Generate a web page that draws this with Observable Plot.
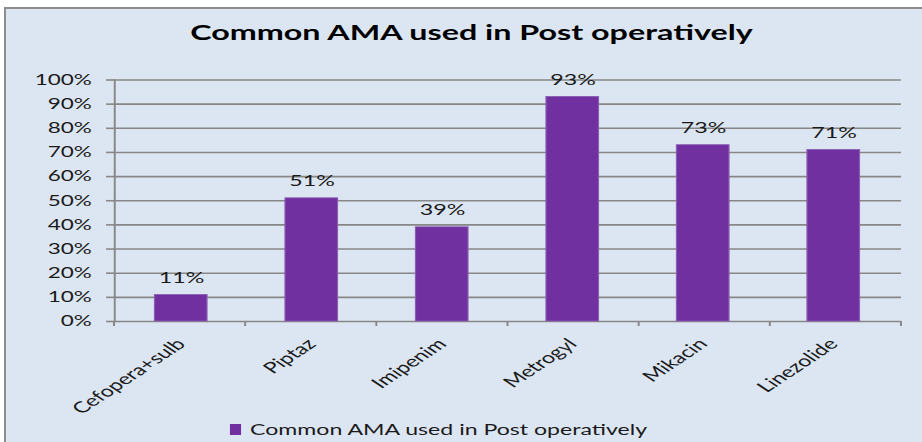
<!DOCTYPE html>
<html>
<head>
<meta charset="utf-8">
<script src="https://cdn.jsdelivr.net/npm/d3@7"></script>
<script src="https://cdn.jsdelivr.net/npm/@observablehq/plot@0.6"></script>
<style>
  html, body { margin: 0; padding: 0; background: #ffffff; }
  body { width: 922px; height: 442px; overflow: hidden; position: relative; }
  #frame { position: absolute; left: 4px; top: 7px; width: 918px; height: 435px;
           background: #dce6f2; border-left: 2px solid #8c8c8c; border-top: 2px solid #8c8c8c; box-sizing: border-box; }
  #stage { position: absolute; left: 0; top: 0; width: 614.67px; height: 442px;
           transform: scaleX(1.5); transform-origin: 0 0; }
  #stage svg { position: absolute; left: 0; top: 0; }
</style>
</head>
<body>
<div id="frame"></div>
<div id="stage"></div>
<script>
// ---- data ----
const chartTitle = "Common AMA used in Post operatively";
const seriesName = "Common AMA used in Post operatively";
const categories = ["Cefopera+sulb", "Piptaz", "Imipenim", "Metrogyl", "Mikacin", "Linezolide"];
const values = [11, 51, 39, 93, 73, 71];
const yTicks = [0, 10, 20, 30, 40, 50, 60, 70, 80, 90, 100];

const data = categories.map((c, i) => ({category: c, value: values[i]}));

const W = 614.67, H = 442;
const purple = "#7030a0";
const grey = "#878787";
const ink = "#1a1a1a";

// boundary tick marks below the category axis
function boundaryTicks(index, scales, vals, dims) {
  const n = categories.length;
  const x0 = dims.marginLeft, x1 = dims.width - dims.marginRight;
  const y0 = dims.height - dims.marginBottom;
  const g = d3.create("svg:g").attr("stroke", grey).attr("stroke-width", 1.3);
  for (let i = 0; i <= n; i++) {
    const x = x0 + (x1 - x0) * i / n;
    g.append("line").attr("x1", x).attr("x2", x).attr("y1", y0).attr("y2", y0 + 5);
  }
  return g.node();
}

const chart = Plot.plot({
  width: W,
  height: H,
  marginLeft: 76,
  marginRight: 14,
  marginTop: 79.5,
  marginBottom: H - 321,
  style: {background: "transparent", fontFamily: "Lato", fontSize: "15px", color: ink, overflow: "visible"},
  x: {domain: categories, paddingInner: 0.6, paddingOuter: 0.3, axis: null},
  y: {domain: [0, 100], axis: null},
  marks: [
    Plot.gridY(yTicks, {stroke: grey, strokeOpacity: 1, strokeWidth: 1.6}),
    Plot.axisY({ticks: yTicks, tickFormat: d => d + "%", tickSize: 5.3, tickPadding: 10,
                stroke: grey, strokeWidth: 1.6, label: null, fontSize: 15, fill: ink}),
    Plot.frame({anchor: "left", stroke: grey, strokeWidth: 1.3}),
    boundaryTicks,
    Plot.barY(data, {x: "category", y: "value", fill: purple, stroke: "#8b5cb3", strokeWidth: 0.8}),
    Plot.text(data, {x: "category", y: "value", text: d => d.value + "%", lineAnchor: "bottom",
                     dy: -12, fontSize: 15.5, fill: ink}),
    Plot.text(categories, {x: d => d, frameAnchor: "bottom", rotate: -45, textAnchor: "end",
                           lineAnchor: "middle", dx: 0, dy: 20, fontSize: 15.5, fill: ink})
  ]
});
document.getElementById("stage").appendChild(chart);

// title and legend overlay
const over = d3.select("#stage").append("svg")
  .attr("width", W).attr("height", H)
  .style("font-family", "Lato").style("overflow", "visible");
over.append("text")
  .attr("x", 314.3).attr("y", 40.5)
  .attr("text-anchor", "middle")
  .attr("font-size", 20).attr("font-weight", "bold").attr("fill", "#000")
  .attr("textLength", 375).attr("lengthAdjust", "spacingAndGlyphs")
  .text(chartTitle);
over.append("rect")
  .attr("x", 153.3).attr("y", 424).attr("width", 7.4).attr("height", 11)
  .attr("fill", purple);
over.append("text")
  .attr("x", 166.7).attr("y", 435.5)
  .attr("font-size", 16).attr("fill", ink)
  .attr("textLength", 264.7).attr("lengthAdjust", "spacingAndGlyphs")
  .text(seriesName);
</script>
</body>
</html>
